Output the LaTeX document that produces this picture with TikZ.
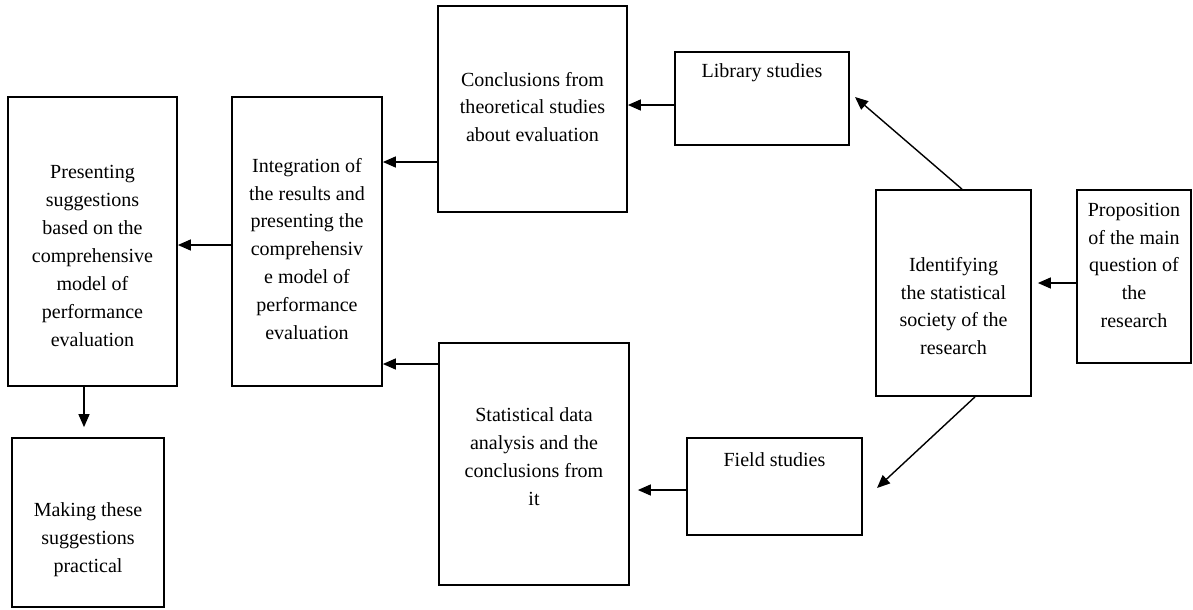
\documentclass[tikz,border=0pt]{standalone}
\usepackage{fontspec}
\setmainfont{Liberation Serif}
\usetikzlibrary{arrows.meta}
\newcommand{\boxtext}[4]{\parbox[c][#2][t]{#1}{\centering\vspace*{#3}\strut#4}}
\tikzset{
  box/.style={draw, line width=1pt, inner sep=0pt, font=\fontsize{11.4}{15.9}\selectfont},
  arr/.style={-{Triangle[length=0.26cm,width=0.22cm]}, line width=0.8pt}
}
\begin{document}
\begin{tikzpicture}[x=0.02cm, y=-0.02cm]
  \useasboundingbox (0,0) rectangle (1193,609);
  \node[box] (pres) at (92.5,241.5){\boxtext{3.38cm}{5.78cm}{35.5pt}{Presenting\\suggestions\\based on the\\comprehensive\\model of\\performance\\evaluation}};
  \node[box] (integ) at (307,241.5){\boxtext{3.0cm}{5.78cm}{31.6pt}{Integration of\\the results and\\presenting the\\comprehensiv\\e model of\\performance\\evaluation}};
  \node[box] (concl) at (532.5,109){\boxtext{3.78cm}{4.12cm}{34.4pt}{Conclusions from\\theoretical studies\\about evaluation}};
  \node[box] (lib) at (762,98.5){\boxtext{3.48cm}{1.86cm}{3.1pt}{Library studies}};
  \node[box] (ident) at (953.5,293){\boxtext{3.1cm}{4.12cm}{35pt}{Identifying\\the statistical\\society of the\\research}};
  \node[box] (prop) at (1134,276.5){\boxtext{2.28cm}{3.46cm}{3.7pt}{Proposition\\of the main\\question of\\the\\research}};
  \node[box] (stat) at (534,464){\boxtext{3.8cm}{4.84cm}{33.8pt}{Statistical data\\analysis and the\\conclusions from\\it}};
  \node[box] (field) at (774.5,486.5){\boxtext{3.5cm}{1.94cm}{4.8pt}{Field studies}};
  \node[box] (make) at (88,522.5){\boxtext{3.04cm}{3.38cm}{33.8pt}{Making these\\suggestions\\practical}};
  \coordinate (libtip) at (855,97);
  \coordinate (fieldtip) at (877,488);
    \draw[arr, shorten >=0.12cm] (prop.west |- 0,283) -- (ident.east |- 0,283);
    \draw[arr] (ident.north -| 962,0) -- (libtip);
    \draw[arr] (ident.south -| 975,0) -- (fieldtip);
    \draw[arr] (lib.west |- 0,105) -- (concl.east |- 0,105);
    \draw[arr, shorten >=0.16cm] (field.west |- 0,490) -- (stat.east |- 0,490);
    \draw[arr] (concl.west |- 0,162) -- (integ.east |- 0,162);
    \draw[arr] (stat.west |- 0,364) -- (integ.east |- 0,364);
    \draw[arr] (integ.west |- 0,245) -- (pres.east |- 0,245);
    \draw[arr, shorten >=0.2cm] (pres.south -| 84,0) -- (make.north -| 84,0);
\end{tikzpicture}
\end{document}
